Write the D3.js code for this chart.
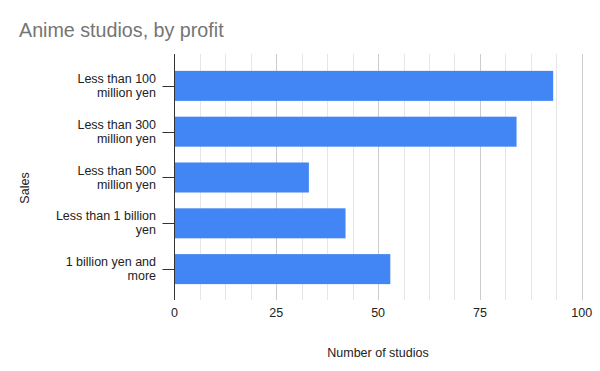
<!DOCTYPE html>
<html>
<head>
<meta charset="utf-8">
<script src="https://cdn.jsdelivr.net/npm/d3@7"></script>
<style>
  body { margin: 0; background: #fff; }
  text { font-family: 'Liberation Sans', Arial, sans-serif; }
</style>
</head>
<body>
<div id="chart"></div>
<script>
const width = 600
const height = 371

// data
const categories = [
  ['Less than 100', 'million yen'],
  ['Less than 300', 'million yen'],
  ['Less than 500', 'million yen'],
  ['Less than 1 billion', 'yen'],
  ['1 billion yen and', 'more']
]
const studios = [93, 84, 33, 42, 53]
const xTicks = [0, 25, 50, 75, 100]

const plot = { left: 174.5, right: 581.7, top: 54, bottom: 300 }

const svg = d3.select('#chart').append('svg')
  .attr('width', width)
  .attr('height', height)

const xScale = d3.scaleLinear().domain([0, 100]).range([plot.left, plot.right])
const yScale = d3.scaleBand()
  .domain(categories.map((d, i) => i))
  .range([63, 292])
  .paddingInner(0.345)
  .paddingOuter(0.172)

// minor gridlines
const minor = d3.range(0, 100.01, 6.25).filter(v => v % 25 !== 0)
svg.append('g').selectAll('line').data(minor).join('line')
  .attr('x1', d => Math.round(xScale(d)) + 0.5)
  .attr('x2', d => Math.round(xScale(d)) + 0.5)
  .attr('y1', plot.top)
  .attr('y2', plot.bottom)
  .attr('stroke', '#e6e6e6')

// major gridlines
svg.append('g').selectAll('line').data(xTicks.slice(1)).join('line')
  .attr('x1', d => Math.round(xScale(d)) + 0.5)
  .attr('x2', d => Math.round(xScale(d)) + 0.5)
  .attr('y1', plot.top)
  .attr('y2', plot.bottom)
  .attr('stroke', '#cccccc')

// bars
svg.append('g').selectAll('rect').data(studios).join('rect')
  .attr('x', xScale(0))
  .attr('y', (d, i) => yScale(i))
  .attr('width', d => xScale(d) - xScale(0))
  .attr('height', yScale.bandwidth())
  .attr('fill', '#4285f4')

// y axis line + ticks
svg.append('line')
  .attr('x1', plot.left).attr('x2', plot.left)
  .attr('y1', plot.top).attr('y2', plot.bottom)
  .attr('stroke', '#333')
svg.append('g').selectAll('line').data(categories).join('line')
  .attr('x1', plot.left - 12)
  .attr('x2', plot.left)
  .attr('y1', (d, i) => Math.round(yScale(i) + yScale.bandwidth() / 2) + 0.5)
  .attr('y2', (d, i) => Math.round(yScale(i) + yScale.bandwidth() / 2) + 0.5)
  .attr('stroke', '#333')

// y labels
const yLabels = svg.append('g').selectAll('text').data(categories).join('text')
  .attr('text-anchor', 'end')
  .attr('font-size', 12.5)
  .attr('fill', '#222')
  .attr('transform', (d, i) => `translate(156,${yScale(i) + yScale.bandwidth() / 2})`)
yLabels.selectAll('tspan').data(d => d).join('tspan')
  .attr('x', 0)
  .attr('y', (d, j) => j === 0 ? -3 : 11)
  .text(d => d)

// x tick labels
svg.append('g').selectAll('text').data(xTicks).join('text')
  .attr('x', d => xScale(d))
  .attr('y', 317)
  .attr('text-anchor', 'middle')
  .attr('font-size', 12.5)
  .attr('fill', '#222')
  .text(d => d)

// axis titles
svg.append('text')
  .attr('x', 378)
  .attr('y', 357)
  .attr('text-anchor', 'middle')
  .attr('font-size', 12.5)
  .attr('fill', '#222')
  .text('Number of studios')

svg.append('text')
  .attr('transform', 'translate(29,188) rotate(-90)')
  .attr('text-anchor', 'middle')
  .attr('font-size', 12.5)
  .attr('fill', '#222')
  .text('Sales')

// title
svg.append('text')
  .attr('x', 19)
  .attr('y', 37)
  .attr('font-size', 19.7)
  .attr('fill', '#757575')
  .text('Anime studios, by profit')
</script>
</body>
</html>
